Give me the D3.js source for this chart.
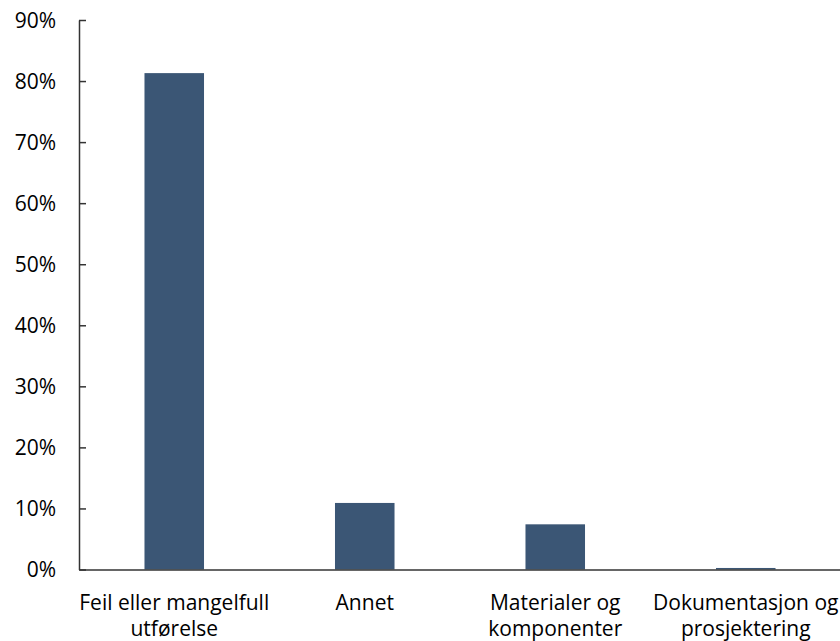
<!DOCTYPE html>
<html><head><meta charset="utf-8">
<script src="https://d3js.org/d3.v7.min.js"></script>
<style>body{margin:0;background:#fff}svg text{font-family:"Open Sans",sans-serif;fill:#000}</style>
</head><body><svg id="c" width="840" height="641"></svg>
<script>
const categories = [["Feil eller mangelfull","utførelse"],["Annet"],["Materialer og","komponenter"],["Dokumentasjon og","prosjektering"]];
const values = [0.813, 0.109, 0.074, 0.0025];
const yTicks = [0,0.1,0.2,0.3,0.4,0.5,0.6,0.7,0.8,0.9];

(function(){
const svg = d3.select("#c");
const mLeft = 79, mRight = 841, mTop = 20, mBottom = 569.5;
const x = d3.scaleBand().domain(d3.range(categories.length)).range([mLeft,mRight]).paddingInner(0.6875).paddingOuter(0.34375);
const y = d3.scaleLinear().domain([0,0.9]).range([mBottom,mTop]);

svg.selectAll("rect.bar").data(values).join("rect").attr("class","bar")
  .attr("x",(d,i)=>x(i)).attr("width",x.bandwidth())
  .attr("y",d=>y(d)).attr("height",d=>y(0)-y(d)).attr("fill","#3B5675");

const ya = svg.append("g").attr("transform",`translate(${mLeft},0)`)
  .call(d3.axisLeft(y).tickValues(yTicks).tickFormat(d3.format(".0%")).tickSizeInner(-7).tickSizeOuter(0).tickPadding(23));
ya.select(".domain").attr("stroke","#333").attr("stroke-width",1.5);
ya.selectAll(".tick line").attr("stroke","#333").attr("stroke-width",1.5);
ya.selectAll(".tick text").attr("font-size",21).attr("dy","0.35em").style("font-family",'"Open Sans",sans-serif');

const xa = svg.append("g").attr("transform",`translate(0,${mBottom})`)
  .call(d3.axisBottom(x).tickSize(0).tickFormat(""));
xa.select(".domain").attr("stroke","#333").attr("stroke-width",1.5);
xa.selectAll(".tick").each(function(d){
  const t = d3.select(this).append("text").attr("text-anchor","middle").attr("font-size",21);
  categories[d].forEach((s,j)=>t.append("tspan").attr("x",0).attr("y",40+j*26).text(s));
});
})();
</script></body></html>
